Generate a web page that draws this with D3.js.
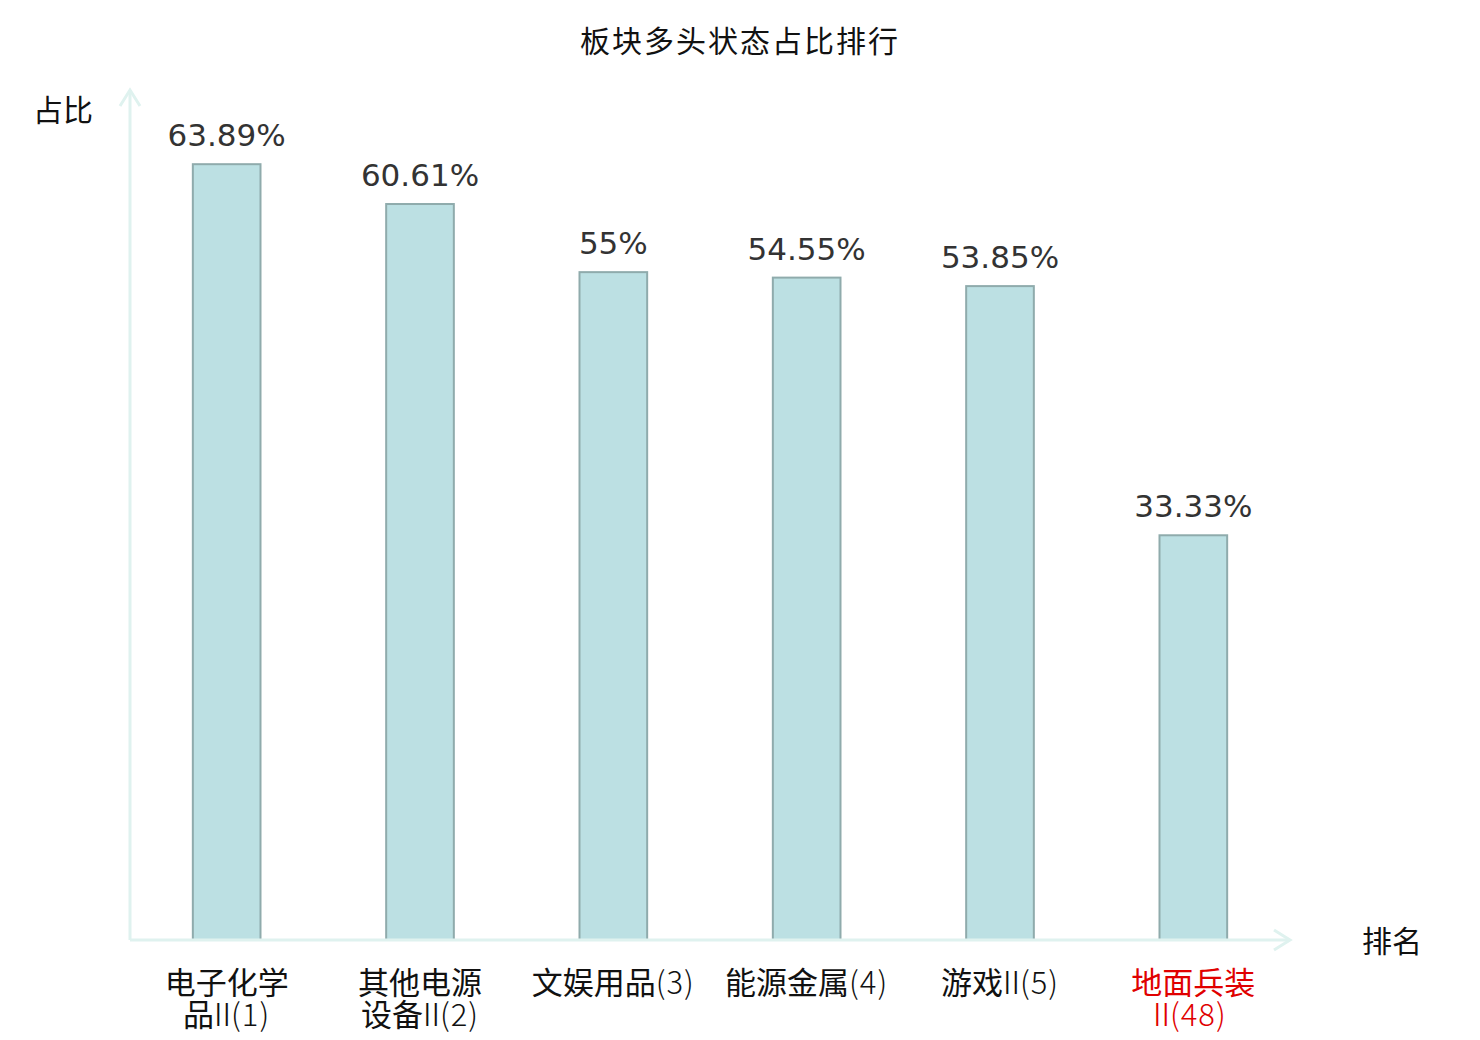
<!DOCTYPE html>
<html>
<head>
<meta charset="utf-8">
<script src="https://cdn.jsdelivr.net/npm/d3@7"></script>
<style>
  body { margin: 0; background: #fff; }
  svg { display: block; }
</style>
</head>
<body>
<svg width="1480" height="1040"></svg>
<script>
const categories = ['电子化学品Ⅱ(1)', '其他电源设备Ⅱ(2)', '文娱用品(3)', '能源金属(4)', '游戏Ⅱ(5)', '地面兵装Ⅱ(48)'];
const values = [63.89, 60.61, 55, 54.55, 53.85, 33.33];
const highlight = ['地面兵装Ⅱ(48)'];

const CJK = '"Noto Sans CJK SC", "Noto Sans", sans-serif';
const NUM = '"DejaVu Sans", sans-serif';
const AXIS_COLOR = '#dff2ef';

const svg = d3.select('svg');
const plotLeft = 130, plotRight = 1290, plotTop = 90, plotBottom = 940;

const x = d3.scaleBand()
    .domain(categories)
    .range([plotLeft, plotRight])
    .paddingInner(0.65)
    .paddingOuter(0.325);

const y = d3.scaleLinear()
    .domain([0, 70])
    .range([plotBottom, plotTop]);

// title
svg.append('text')
    .attr('x', 740).attr('y', 52)
    .attr('text-anchor', 'middle')
    .style('font-family', CJK)
    .style('font-size', '30px')
    .style('letter-spacing', '2px')
    .style('fill', '#111')
    .text('板块多头状态占比排行');

// bars
svg.selectAll('rect.bar')
    .data(categories)
    .enter()
    .append('rect')
    .attr('class', 'bar')
    .attr('x', d => x(d))
    .attr('width', x.bandwidth())
    .attr('y', (d, i) => y(values[i]))
    .attr('height', (d, i) => y(0) - y(values[i]))
    .style('fill', '#bce0e3')
    .style('stroke', '#8fabac')
    .style('stroke-width', 2);

// value labels
svg.selectAll('text.val')
    .data(categories)
    .enter()
    .append('text')
    .attr('class', 'val')
    .attr('x', d => x(d) + x.bandwidth() / 2)
    .attr('y', (d, i) => y(values[i]) - 18)
    .attr('text-anchor', 'middle')
    .style('font-family', NUM)
    .style('font-size', '31px')
    .style('fill', '#333')
    .text((d, i) => d3.format('~')(values[i]) + '%');

// axes with arrow heads
svg.append('line')
    .attr('x1', plotLeft).attr('y1', plotBottom)
    .attr('x2', plotLeft).attr('y2', plotTop)
    .style('stroke', AXIS_COLOR).style('stroke-width', 3);
svg.append('path')
    .attr('d', `M${plotLeft - 10},${plotTop + 16}L${plotLeft},${plotTop}L${plotLeft + 10},${plotTop + 16}`)
    .style('fill', 'none').style('stroke', AXIS_COLOR).style('stroke-width', 3);
svg.append('line')
    .attr('x1', plotLeft).attr('y1', plotBottom)
    .attr('x2', plotRight).attr('y2', plotBottom)
    .style('stroke', AXIS_COLOR).style('stroke-width', 3);
svg.append('path')
    .attr('d', `M${plotRight - 16},${plotBottom - 10}L${plotRight},${plotBottom}L${plotRight - 16},${plotBottom + 10}`)
    .style('fill', 'none').style('stroke', AXIS_COLOR).style('stroke-width', 3);

// axis names
svg.append('text')
    .attr('x', 63).attr('y', 121)
    .attr('text-anchor', 'middle')
    .style('font-family', CJK).style('font-size', '30px').style('fill', '#111')
    .text('占比');
svg.append('text')
    .attr('x', 1392).attr('y', 952)
    .attr('text-anchor', 'middle')
    .style('font-family', CJK).style('font-size', '30px').style('fill', '#111')
    .text('排名');

// category labels, wrapped after four characters when too long;
// the latin part of each label is set lighter and the wide Ⅱ is tightened
const xlab = svg.selectAll('text.cat')
    .data(categories)
    .enter()
    .append('text')
    .attr('class', 'cat')
    .attr('y', 994)
    .attr('text-anchor', 'middle')
    .style('font-family', CJK)
    .style('font-size', '31px')
    .style('fill', d => highlight.includes(d) ? '#e00000' : '#111');

xlab.each(function (d) {
    const t = d3.select(this);
    const lines = d.length > 7 ? [d.slice(0, 4), d.slice(4)] : [d];
    lines.forEach((s, i) => {
        const runs = s.match(/[\u4e00-\u9fff]+|Ⅱ|[^\u4e00-\u9fffⅡ]+/g);
        let prevRoman = false;
        runs.forEach((r, j) => {
            const cjk = /[\u4e00-\u9fff]/.test(r);
            const span = t.append('tspan').text(r)
                .style('font-weight', cjk ? 400 : 300);
            if (!cjk && r !== 'Ⅱ') span.style('letter-spacing', '1px');
            let dx = 0;
            if (r === 'Ⅱ') dx = -7;
            if (prevRoman) dx = -7;
            prevRoman = r === 'Ⅱ';
            if (dx) span.attr('dx', dx);
            if (j === 0) {
                span.attr('x', x(d) + x.bandwidth() / 2)
                    .attr('dy', i === 0 ? 0 : 32);
            }
        });
    });
});
</script>
</body>
</html>
